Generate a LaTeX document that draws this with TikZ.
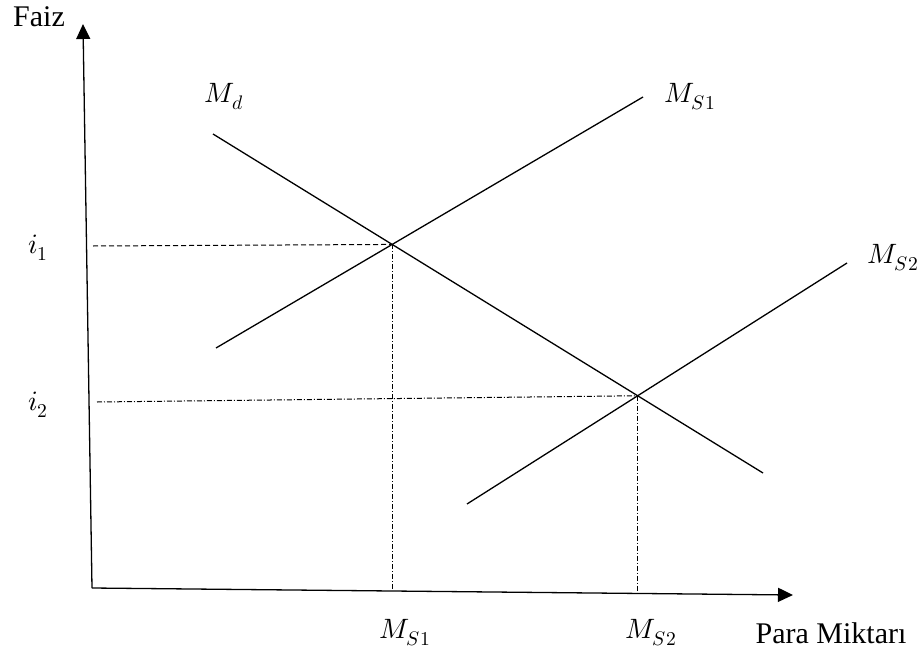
\documentclass[tikz,border=0pt]{standalone}
\usepackage{unicode-math}
\setmainfont{Liberation Serif}
\usetikzlibrary{arrows.meta}
\begin{document}
\begin{tikzpicture}[x=1pt,y=-1pt,
    axis/.style={line width=1.3pt,-{Triangle[length=15pt,width=14pt]}},
    curve/.style={line width=1.3pt},
    dashline/.style={line width=1pt,dash pattern=on 5pt off 3pt},
    dotline/.style={line width=1pt,dash pattern=on 5pt off 2pt on 1pt off 2pt},
    lbl/.style={font=\fontsize{28}{32}\selectfont},
    txt/.style={font=\fontsize{30}{34}\selectfont}]
  \useasboundingbox (0,0) rectangle (920,658);

  % Axes
  \coordinate (O) at (92,588);
  \coordinate (ytip) at (83,24);
  \coordinate (xtip) at (793,595);
  \draw[axis] (O) -- (ytip);
  \draw[axis] (O) -- (xtip);
  \node[txt] (faiz) at (39,17) {Faiz};
  \node[txt] (para) at (831,633) {Para Miktarı};

  % Money demand and the two supply lines
  \coordinate (md1) at (213,134);
  \coordinate (md2) at (763,473);
  \coordinate (s1a) at (216,348);
  \coordinate (s1b) at (643,97);
  \coordinate (s2a) at (467,504);
  \coordinate (s2b) at (847,263);
  \draw[curve] (md1) -- (md2);
  \draw[curve] (s1a) -- (s1b);
  \draw[curve] (s2a) -- (s2b);
  \node[lbl] (md) at (224,97) {$M_d$};
  \node[lbl] (ms1) at (690,97) {$M_{S1}$};
  \node[lbl] (ms2) at (893,258) {$M_{S2}$};

  % Equilibrium points
  \coordinate (E1) at (intersection of md1--md2 and s1a--s1b);
  \coordinate (E2) at (intersection of md1--md2 and s2a--s2b);

  % Guide lines to the axes
  \coordinate (g1) at (93,246);
  \coordinate (g2) at (97,402);
  \coordinate (xs1) at (0,591);
  \coordinate (xs2) at (0,595);
  \draw[dashline] (g1) -- (E1);
  \draw[dotline] (g2) -- (E2);
  \draw[dotline] (E1) -- (E1 |- xs1);
  \draw[dotline] (E2) -- (E2 |- xs2);
  \node[lbl] (i1) at (38,248) {$i_1$};
  \node[lbl] (i2) at (38,405) {$i_2$};
  \node[lbl] (q1) at (405,633) {$M_{S1}$};
  \node[lbl] (q2) at (651,633) {$M_{S2}$};
\end{tikzpicture}
\end{document}
